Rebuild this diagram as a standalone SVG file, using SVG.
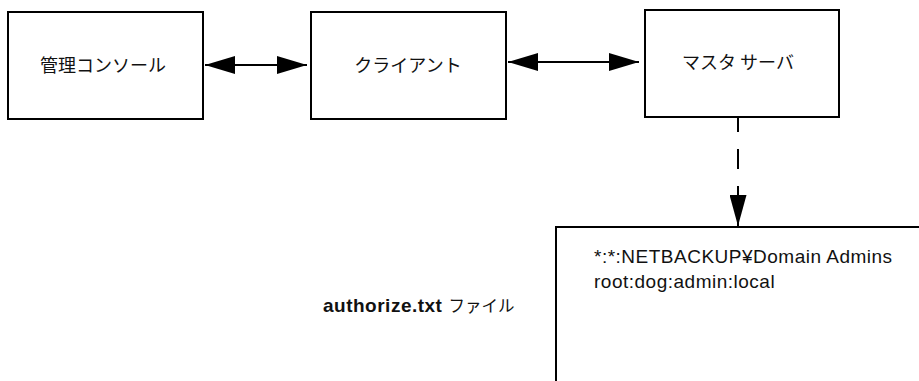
<svg xmlns="http://www.w3.org/2000/svg" width="919" height="381" viewBox="0 0 919 381">
<style>
.box{fill:#fff;stroke:#000;stroke-width:2}
.jp{font-family:"Noto Sans CJK JP","Noto Sans",sans-serif;font-size:18px;fill:#111;text-anchor:middle}
.lat{font-family:"Liberation Sans",Arial,sans-serif;font-size:19px;letter-spacing:0.5px;fill:#111}
.conn{stroke:#000;stroke-width:2;fill:none}
</style>
<defs>
<marker id="ah" viewBox="0 0 30 18" refX="30" refY="9" markerWidth="30" markerHeight="18" markerUnits="userSpaceOnUse" orient="auto-start-reverse">
<path d="M0,0 L30,9 L0,18 z" fill="#000"/>
</marker>
<marker id="ahv" viewBox="0 0 31 17" refX="31" refY="8.5" markerWidth="31" markerHeight="17" markerUnits="userSpaceOnUse" orient="auto">
<path d="M0,0 L31,8.5 L0,17 z" fill="#000"/>
</marker>
</defs>
<g id="connectors">
<line class="conn" x1="205" y1="65" x2="307" y2="65" marker-start="url(#ah)" marker-end="url(#ah)"/>
<line class="conn" x1="508" y1="62" x2="639" y2="62" marker-start="url(#ah)" marker-end="url(#ah)"/>
<line class="conn" x1="738" y1="112" x2="738" y2="196" stroke-dasharray="20 17"/>
<line class="conn" x1="738" y1="190" x2="738" y2="226" stroke="none" marker-end="url(#ahv)"/>
</g>
<g id="node-console">
<rect class="box" x="8" y="12" width="195" height="107"/>
<text class="jp" x="103" y="72">管理コンソール</text>
</g>
<g id="node-client">
<rect class="box" x="311" y="12" width="195" height="107"/>
<text class="jp" x="408" y="72">クライアント</text>
</g>
<g id="node-master">
<rect class="box" x="645" y="10" width="194" height="107"/>
<text class="jp" x="738" y="69">マスタ サーバ</text>
</g>
<g id="node-authorize">
<rect class="box" x="556" y="227" width="420" height="200"/>
<text class="lat" x="594" y="263">*:*:NETBACKUP¥Domain Admins</text>
<text class="lat" x="594" y="288">root:dog:admin:local</text>
</g>
<g id="label-authorize">
<text x="323" y="312"><tspan class="lat" font-weight="bold">authorize.txt</tspan><tspan font-family="Noto Sans CJK JP, sans-serif" font-size="16.5px" fill="#111" dx="6">ファイル</tspan></text>
</g>
</svg>
